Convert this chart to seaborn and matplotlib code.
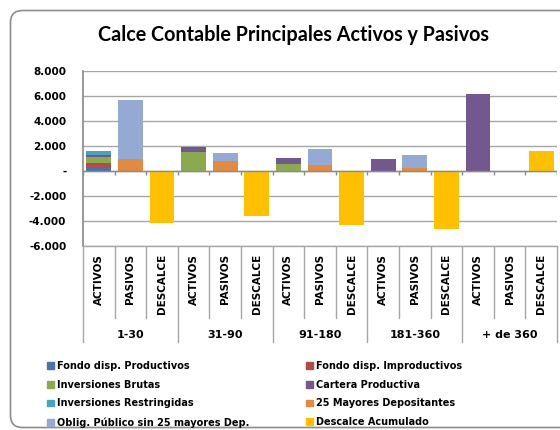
import numpy as np
import pandas as pd
import seaborn as sns
import matplotlib
matplotlib.use("Agg")
import matplotlib.pyplot as plt
from matplotlib.patches import FancyBboxPatch
from matplotlib.ticker import FuncFormatter
from matplotlib.transforms import blended_transform_factory

# Data
groups = ["1-30", "31-90", "91-180", "181-360", "+ de 360"]
subcats = ["ACTIVOS", "PASIVOS", "DESCALCE"]

fondo_prod = [270, 0, 0, 0, 0]
fondo_improd = [330, 0, 0, 0, 0]
inv_brutas = [550, 1540, 560, 0, 0]
cartera = [160, 370, 480, 980, 6150]
inv_restr = [250, 0, 0, 0, 0]
mayores25 = [990, 800, 450, 240, 0]
oblig = [4710, 640, 1270, 1030, 0]
descalce = [-4140, -3610, -4300, -4610, 1560]

series = ["Fondo disp. Productivos", "Fondo disp. Improductivos", "Inversiones Brutas",
          "Cartera Productiva", "Inversiones Restringidas", "25 Mayores Depositantes",
          "Oblig. Público sin 25 mayores Dep.", "Descalce Acumulado"]
series_vals = [fondo_prod, fondo_improd, inv_brutas, cartera, inv_restr,
               mayores25, oblig, descalce]
series_sub = ["ACTIVOS"] * 5 + ["PASIVOS"] * 2 + ["DESCALCE"]
colors = ["#4A73AA", "#B44B48", "#8BAA50", "#73588F", "#4AA3BE",
          "#E08A42", "#95AAD3", "#FFC000"]

# long table with stacked (cumulative) heights per slot
slot_order = [f"{g}|{s}" for g in groups for s in subcats]
rows = []
for gi, g in enumerate(groups):
    for s in subcats:
        cum = 0
        for name, vals, sub in zip(series, series_vals, series_sub):
            if sub != s or vals[gi] == 0:
                continue
            cum += vals[gi]
            rows.append({"slot": f"{g}|{s}", "serie": name, "cum": cum})
df = pd.DataFrame(rows)

sns.set_theme(style="white")
plt.rcParams["font.family"] = ["DejaVu Sans"]
plt.rcParams["text.color"] = "black"
plt.rcParams["ytick.color"] = "black"

fig = plt.figure(figsize=(5.6, 4.3), dpi=100)

# rounded chart border
bg = fig.add_axes([0, 0, 1, 1], zorder=-1)
bg.set_xlim(0, 560)
bg.set_ylim(430, 0)
bg.set_axis_off()
bg.add_patch(FancyBboxPatch((10.5, 10.5), 590, 417, boxstyle="round,pad=0,rounding_size=12",
                            fc="white", ec="#8c8c8c", lw=1.2))

ax = fig.add_axes([83 / 560, 1 - 246 / 430, (557 - 83) / 560, 175 / 430])
ax.patch.set_alpha(0)

sns.barplot(data=df, x="slot", y="cum", hue="serie", order=slot_order,
            hue_order=series[::-1], palette=dict(zip(series, colors)),
            dodge=False, width=0.78, saturation=1, legend=False,
            linewidth=0, ax=ax)

ax.set_ylim(-6000, 8000)
ax.set_xlim(-0.5, 14.5)
ax.set_yticks(np.arange(-6000, 8001, 2000))
ax.yaxis.set_major_formatter(FuncFormatter(
    lambda v, p: "-" if v == 0 else f"{v:,.0f}".replace(",", ".")))
ax.set_xticks([])
ax.set_xlabel("")
ax.set_ylabel("")
ax.grid(axis="y", color="#a6a6a6", lw=1)
ax.set_axisbelow(True)
for sp in ["top", "right"]:
    ax.spines[sp].set_visible(False)
ax.spines["bottom"].set_color("#a6a6a6")
ax.spines["bottom"].set_linewidth(1)
ax.spines["left"].set_color("#8c8c8c")
ax.tick_params(axis="y", length=4, width=1, color="#8c8c8c", labelcolor="black",
               pad=8, labelsize=7.5)
for lbl in ax.get_yticklabels():
    lbl.set_fontweight("bold")

# zero axis with slot tick marks
ax.axhline(0, color="#8c8c8c", lw=1, zorder=1)
ax.vlines(np.arange(-0.5, 15), -330, 0, color="#8c8c8c", lw=1, zorder=1)

# multi-level category labels
tr = blended_transform_factory(ax.transData, ax.transAxes)
for i, key in enumerate(slot_order):
    g, s = key.split("|")
    ax.text(i, -0.045, s, transform=tr, rotation=90, ha="center", va="top",
            fontsize=7.5, fontweight="bold")
for gi, g in enumerate(groups):
    ax.text(gi * 3 + 1, -0.51, g, transform=tr, ha="center", va="center",
            fontsize=8, fontweight="bold")
for k in range(16):
    x = k - 0.5
    y1 = -0.55 if k % 3 == 0 else -0.41
    ax.plot([x, x], [0, y1], transform=tr, color="#a6a6a6", lw=1, clip_on=False)

fig.text(293 / 560, 1 - 35 / 430, "Calce Contable Principales Activos y Pasivos",
         ha="center", va="center", fontsize=14.2, fontweight="bold", family=["Lato"])

# legend in two columns, row-major order like the original
handles = [plt.Rectangle((0, 0), 1, 1, color=c) for c in colors]
for col, x0 in enumerate([42, 301]):
    idx = [col, col + 2, col + 4, col + 6]
    leg = fig.legend([handles[i] for i in idx], [series[i] for i in idx],
                     loc="upper left", bbox_to_anchor=(x0 / 560, 1 - 356 / 430),
                     frameon=False, handlelength=0.7, handleheight=0.7,
                     handletextpad=0.3, labelspacing=0.9, borderpad=0,
                     prop={"size": 7, "weight": "bold"})

fig.savefig("out.png", dpi=100)
